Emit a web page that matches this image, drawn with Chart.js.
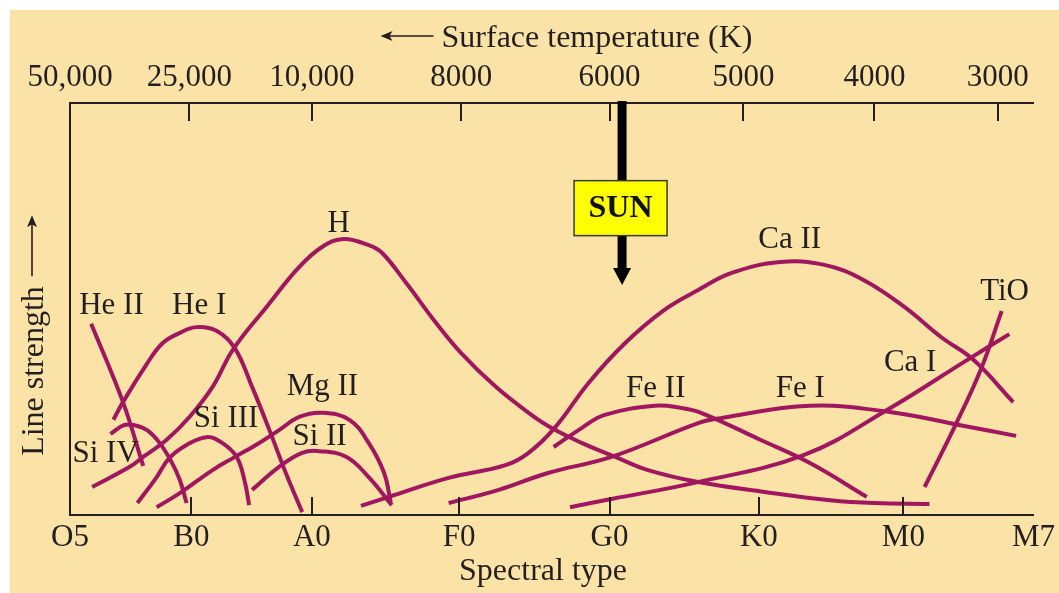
<!DOCTYPE html>
<html>
<head>
<meta charset="utf-8">
<title>Line strength vs spectral type</title>
<script src="https://cdn.jsdelivr.net/npm/chart.js@4.4.1/dist/chart.umd.min.js"></script>
<style>
  html, body { margin: 0; padding: 0; background: #fff; }
  canvas { display: block; }
</style>
</head>
<body>
<canvas id="lines" width="1059" height="593"></canvas>
<script>
// bottom axis: spectral type, top axis: surface temperature (same positions 0..100)
const spectralTypes = ["O5", "B0", "A0", "F0", "G0", "K0", "M0", "M7"];
const spectralPos = [0, 12.6, 25.1, 40.4, 56.0, 71.5, 86.5, 100];
const tempLabels = ["50,000", "25,000", "10,000", "8000", "6000", "5000", "4000", "3000"];
const tempPos = [0, 12.4, 25.1, 40.6, 56.0, 69.9, 83.5, 96.3];

// line strength curves, [position, strength]
const heII = [[2.2, 46.4], [5.5, 27.4], [7.6, 11.9]];
const heI = [[4.5, 23.1], [5.5, 27.4], [7.9, 36.4], [9.6, 41.7], [11.4, 44.2], [13.1, 45.6],
  [15.2, 44.7], [17.1, 40.5], [18.9, 31.1], [20.7, 20.6], [22.4, 10.2], [24.1, 0.7]];
const siIV = [[4.2, 19.7], [5.6, 21.8], [6.7, 21.8], [8.0, 20.6], [9.3, 17.5], [10.6, 12.6],
  [11.4, 8.5], [12.1, 2.9]];
const siIII = [[7.0, 2.9], [9.0, 9.2], [10.3, 13.8], [12.1, 17.0], [14.2, 18.9], [15.8, 17.5],
  [17.3, 14.1], [18.1, 8.5], [18.6, 2.4]];
const hydrogen = [[2.3, 6.8], [6.2, 11.7], [7.6, 14.1], [10.0, 18.2], [12.4, 23.8], [14.8, 31.1],
  [16.9, 40.1], [20.4, 50.5], [23.8, 60.2], [26.2, 65.1], [28.4, 67.0], [31.0, 65.5],
  [32.4, 63.6], [34.9, 56.3], [38.0, 46.6], [40.6, 39.3], [44.2, 31.1], [47.6, 24.8],
  [50.0, 21.1], [53.1, 17.5], [56.6, 14.1], [60.0, 10.9], [65.2, 8.0], [72.1, 5.6],
  [78.9, 3.6], [83.5, 2.9], [89.2, 2.7]];
const mgII = [[9.0, 1.9], [11.4, 5.3], [14.8, 10.9], [16.9, 13.8], [19.3, 17.0], [21.7, 20.6],
  [23.8, 23.8], [26.2, 24.8], [29.0, 23.1], [31.0, 17.5], [32.6, 10.2], [33.3, 2.9]];
const siII = [[18.9, 6.1], [21.7, 11.7], [24.1, 15.1], [25.9, 15.5], [28.7, 14.1], [31.0, 9.2],
  [33.4, 2.4]];
const caII = [[30.2, 2.2], [33.1, 4.4], [39.3, 9.0], [45.2, 12.1], [47.6, 15.1], [50.4, 21.4],
  [53.8, 32.0], [57.6, 41.7], [61.7, 49.8], [65.2, 54.6], [68.6, 58.7], [73.7, 61.4],
  [78.3, 60.7], [82.4, 57.0], [86.6, 50.5], [90.4, 43.2], [93.8, 37.6], [97.9, 27.4]];
const feII = [[50.2, 16.5], [53.1, 21.1], [55.5, 24.3], [60.7, 26.5], [63.4, 26.0], [65.5, 24.8],
  [71.7, 18.2], [76.8, 12.6], [82.7, 4.4]];
const feI = [[39.3, 2.9], [44.5, 6.1], [49.6, 10.2], [56.2, 14.1], [65.2, 22.3], [67.5, 23.5],
  [76.8, 26.5], [85.1, 25.0], [92.4, 21.8], [98.2, 19.2]];
const caI = [[51.9, 1.9], [56.2, 3.9], [64.8, 7.8], [76.2, 14.6], [84.8, 25.5], [93.1, 37.6],
  [97.5, 43.9]];
const tiO = [[88.7, 6.8], [92.0, 22.3], [94.6, 35.7], [96.7, 49.5]];

const series = [heII, heI, siIV, siIII, hydrogen, mgII, siII, caII, feII, feI, caI, tiO];

// curve names and where their text sits (baseline centre)
const lineNames = ["He II", "He I", "Si IV", "Si III", "H", "Mg II", "Si II", "Ca II", "Fe II", "Fe I", "Ca I", "TiO"];
const labelX = [4.3, 13.4, 3.7, 16.2, 27.9, 26.2, 25.9, 74.7, 60.8, 75.8, 87.2, 97.0];
const labelY = [48.8, 48.8, 12.9, 21.4, 68.7, 29.1, 17.0, 64.7, 28.6, 28.6, 35.0, 52.2];

// the Sun: about 5800 K
const sunPos = 57.3;
const sunTip = 55.8;
const sunBoxY = 74.6;

const INK = "#231f20";
const LINE = "#a0165f";
const CREAM = "#fbe3a8";
const SERIF = "'Liberation Serif', 'DejaVu Serif', serif";

const arrowHead = (c, tx, ty, dx, dy) => {
  // filled head pointing along (dx, dy)
  const len = 12, half = 5;
  const bx = tx - dx * len, by = ty - dy * len;
  c.beginPath();
  c.moveTo(tx, ty);
  c.lineTo(bx - dy * half, by + dx * half);
  c.lineTo(tx - dx * len * 0.75, ty - dy * len * 0.75);
  c.lineTo(bx + dy * half, by - dx * half);
  c.closePath();
  c.fill();
};

const decor = {
  id: "decor",
  beforeDraw(chart) {
    const c = chart.ctx;
    c.save();
    c.fillStyle = CREAM;
    c.fillRect(10, 10, chart.width - 10, chart.height - 10);
    c.restore();
  },
  afterDraw(chart) {
    const c = chart.ctx;
    const { x, y } = chart.scales;
    const area = chart.chartArea;
    c.save();

    // tick marks point into the plot
    c.strokeStyle = INK;
    c.lineWidth = 2;
    c.beginPath();
    spectralPos.slice(1, -1).forEach((v) => {
      const px = Math.round(x.getPixelForValue(v));
      c.moveTo(px, area.bottom);
      c.lineTo(px, area.bottom - 18);
    });
    tempPos.slice(1).forEach((v) => {
      const px = Math.round(x.getPixelForValue(v));
      c.moveTo(px, area.top);
      c.lineTo(px, area.top + 18);
    });
    c.stroke();

    // curve names
    c.fillStyle = INK;
    c.font = `31px ${SERIF}`;
    c.textAlign = "center";
    c.textBaseline = "alphabetic";
    lineNames.forEach((name, i) => {
      c.fillText(name, x.getPixelForValue(labelX[i]), y.getPixelForValue(labelY[i]));
    });

    // Sun marker
    const sx = x.getPixelForValue(sunPos);
    const tip = y.getPixelForValue(sunTip);
    c.fillStyle = "#000";
    c.fillRect(sx - 4.5, area.top - 2, 9, tip - 16 - area.top + 2);
    c.beginPath();
    c.moveTo(sx - 9, tip - 17);
    c.lineTo(sx + 9, tip - 17);
    c.lineTo(sx, tip);
    c.closePath();
    c.fill();
    const by = y.getPixelForValue(sunBoxY);
    c.fillStyle = "#ffff00";
    c.fillRect(sx - 48, by - 27, 93, 55);
    c.strokeStyle = "#3a3a2a";
    c.lineWidth = 1.5;
    c.strokeRect(sx - 48, by - 27, 93, 55);
    c.fillStyle = "#111";
    c.font = `bold 32px ${SERIF}`;
    c.textBaseline = "middle";
    c.fillText("SUN", sx - 1.5, by + 1);

    // axis titles
    c.fillStyle = INK;
    c.strokeStyle = INK;
    c.lineWidth = 1.6;
    c.font = `32px ${SERIF}`;
    c.textBaseline = "alphabetic";
    const top = "Surface temperature (K)";
    const tw = c.measureText(top).width;
    const tx = 597 - tw / 2;
    c.textAlign = "left";
    c.fillText(top, tx, 47);
    c.beginPath();
    c.moveTo(tx - 8, 36);
    c.lineTo(tx - 54, 36);
    c.stroke();
    arrowHead(c, tx - 61, 36, -1, 0);

    c.textAlign = "center";
    c.fillText("Spectral type", 543, 580);

    c.translate(43, 371);
    c.rotate(-Math.PI / 2);
    c.fillText("Line strength", 0, 0);
    const lw = c.measureText("Line strength").width;
    c.beginPath();
    c.moveTo(lw / 2 + 10, -11);
    c.lineTo(lw / 2 + 64, -11);
    c.stroke();
    arrowHead(c, lw / 2 + 71, -11, 1, 0);

    c.restore();
  }
};

const tickFont = { family: SERIF, size: 31 };

new Chart(document.getElementById("lines"), {
  type: "scatter",
  data: {
    datasets: series.map((pts, i) => ({
      label: lineNames[i],
      data: pts.map(([a, b]) => ({ x: a, y: b })),
      showLine: true,
      borderColor: LINE,
      borderWidth: 4,
      pointRadius: 0,
      pointHoverRadius: 0,
      tension: 0.4,
      fill: false
    }))
  },
  options: {
    responsive: false,
    animation: false,
    devicePixelRatio: 1,
    layout: { padding: { left: 70, right: 22, top: 0, bottom: 0 }, autoPadding: false },
    plugins: { legend: { display: false }, tooltip: { enabled: false } },
    scales: {
      x: {
        type: "linear",
        position: "bottom",
        min: 0,
        max: 100,
        afterFit: (s) => { s.height = 78; },
        afterBuildTicks: (s) => { s.ticks = spectralPos.map((v) => ({ value: v })); },
        ticks: {
          callback: (v) => spectralTypes[spectralPos.indexOf(v)],
          autoSkip: false,
          maxRotation: 0,
          padding: 4,
          font: tickFont,
          color: INK
        },
        grid: { display: false, drawTicks: false },
        border: { color: INK, width: 2 }
      },
      xTop: {
        type: "linear",
        position: "top",
        min: 0,
        max: 100,
        afterFit: (s) => { s.height = 103; },
        afterBuildTicks: (s) => { s.ticks = tempPos.map((v) => ({ value: v })); },
        ticks: {
          callback: (v) => tempLabels[tempPos.indexOf(v)],
          autoSkip: false,
          maxRotation: 0,
          padding: 7,
          font: tickFont,
          color: INK
        },
        grid: { display: false, drawTicks: false },
        border: { color: INK, width: 2 }
      },
      y: {
        min: 0,
        max: 100,
        afterFit: (s) => { s.width = 0; },
        ticks: { display: false },
        grid: { display: false, drawTicks: false },
        border: { color: INK, width: 2 }
      }
    }
  },
  plugins: [decor]
});
</script>
</body>
</html>
